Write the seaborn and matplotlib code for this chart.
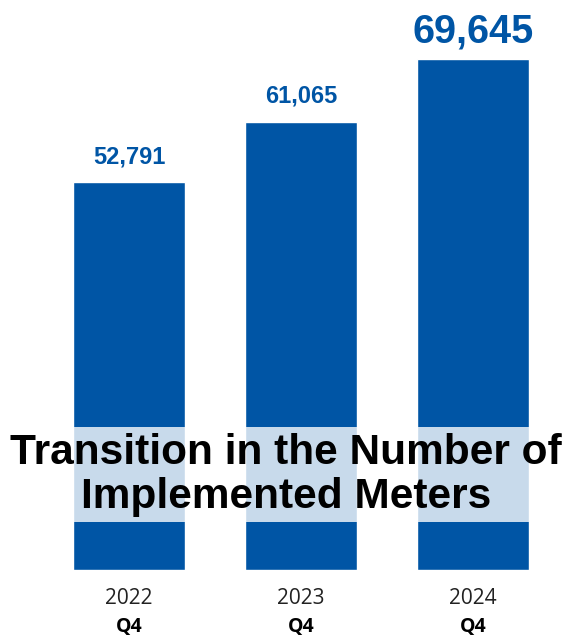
import matplotlib
matplotlib.use("Agg")
import matplotlib.pyplot as plt
import matplotlib.transforms as mtransforms
from matplotlib.patches import Rectangle
import seaborn as sns
import pandas as pd

# Installed meters at the end of each fiscal year (Q4)
years = ["2022", "2023", "2024"]
quarters = ["Q4", "Q4", "Q4"]
meters = [52791, 61065, 69645]
value_labels = ["52,791", "61,065", "69,645"]

title_lines = "Transition in the Number of\nImplemented Meters"

BAR_BLUE = "#0055A5"

sns.set_style("white")
plt.rcParams["font.family"] = ["Liberation Sans", "DejaVu Sans"]

fig = plt.figure(figsize=(5.70, 6.38), dpi=100, facecolor="white")
ax = fig.add_axes([0.0, 68 / 638, 1.0, 570 / 638])

df = pd.DataFrame({"year": years, "meters": meters})
sns.barplot(data=df, x="year", y="meters", color=BAR_BLUE, saturation=1,
            width=0.65, ax=ax, zorder=2)

ax.set_xlim(-0.75, -0.75 + 570 / 172)
ax.set_ylim(0, 77650)
ax.set_axis_off()

# value labels above bars; the latest year is emphasized
for i, (v, lab) in enumerate(zip(meters, value_labels)):
    last = i == len(meters) - 1
    ax.annotate(lab, xy=(i, v), xytext=(0, 16 if last else 19),
                textcoords="offset pixels", ha="center", va="baseline",
                fontsize=28.5 if last else 17, fontweight="bold",
                color=BAR_BLUE, zorder=5)

# category labels below the bars
trans = mtransforms.blended_transform_factory(ax.transData, fig.transFigure)
for i, (y, q) in enumerate(zip(years, quarters)):
    ax.text(i, 1 - 599 / 638, y, transform=trans, ha="center", va="center",
            fontsize=15, family=["Open Sans", "DejaVu Sans"], color="#222222",
            clip_on=False)
    ax.text(i, 1 - 627 / 638, q, transform=trans, ha="center", va="center",
            fontsize=14, fontweight="bold", family=["Open Sans", "DejaVu Sans"],
            color="black", clip_on=False)

# translucent band behind the title
band = Rectangle((0, (638 - 522) / 638), 1, (522 - 427) / 638,
                 transform=fig.transFigure, facecolor="white", alpha=0.79,
                 edgecolor="none", zorder=10)
fig.patches.append(band)

fig.text(0.502, 1 - 475 / 638, title_lines, ha="center", va="center",
         fontsize=30.5, fontweight="bold", color="black",
         linespacing=1.1, zorder=11)

fig.savefig("out.png", dpi=100, facecolor="white")
